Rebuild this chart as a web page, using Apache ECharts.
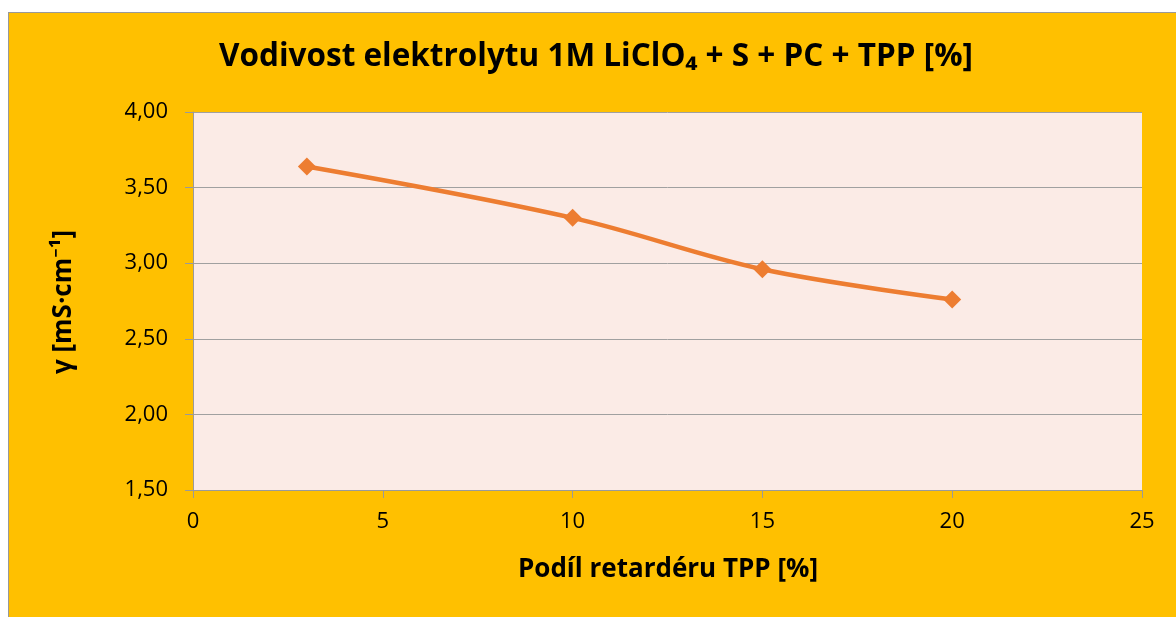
<!DOCTYPE html>
<html><head><meta charset="utf-8">
<script src="https://cdn.jsdelivr.net/npm/echarts@6/dist/echarts.min.js"></script>
<style>
html,body{margin:0;padding:0;background:#fff;width:1176px;height:617px;overflow:hidden;}
#frame{position:absolute;left:8px;top:12px;width:1168px;height:605px;box-sizing:border-box;border-left:1px solid #999;border-top:1px solid #999;background:#FFC000;}
#c{position:absolute;left:0;top:0;width:1167px;height:604px;}
</style></head>
<body><div id="frame"><div id="c"></div></div>
<script>
const titleText = 'Vodivost elektrolytu 1M LiClO\u2084 + S + PC + TPP [%]';
const xTitle = 'Podíl retardéru TPP [%]';
const yTitle = 'γ [mS·cm\u207B\u00B9]';
const xValues = [3, 10, 15, 20];
const yValues = [3.64, 3.30, 2.96, 2.76];
const xTicks = [0, 5, 10, 15, 20, 25];
const yTicks = [1.5, 2.0, 2.5, 3.0, 3.5, 4.0];

const font = '"Open Sans", "Noto Sans", sans-serif';
const chart = echarts.init(document.getElementById('c'));
chart.setOption({
  animation: false,
  textStyle: {fontFamily: font},
  grid: {left: 184, top: 99, width: 949, height: 378, show: true, backgroundColor: '#FBEBE6', borderWidth: 0},
  graphic: [
    {type: 'text', x: 587, y: 44, style: {text: titleText, font: 'bold 31.5px ' + font, fill: '#000', textAlign: 'center', textVerticalAlign: 'middle'}},
    {type: 'text', x: 659, y: 557, style: {text: xTitle, font: 'bold 26px ' + font, fill: '#000', textAlign: 'center', textVerticalAlign: 'middle'}},
    {type: 'text', x: 55, y: 289, rotation: Math.PI / 2, style: {text: yTitle, font: 'bold 26px ' + font, fill: '#000', textAlign: 'center', textVerticalAlign: 'middle'}}
  ],
  xAxis: {
    type: 'value', min: xTicks[0], max: xTicks[xTicks.length - 1], interval: 5,
    axisLine: {show: true, lineStyle: {color: '#9a9a9a', width: 1}},
    axisTick: {show: true, length: 8, lineStyle: {color: '#9a9a9a'}},
    splitLine: {show: false},
    axisLabel: {fontSize: 22, color: '#000', margin: 21}
  },
  yAxis: {
    type: 'value', min: yTicks[0], max: yTicks[yTicks.length - 1], interval: 0.5,
    axisLine: {show: true, lineStyle: {color: '#9a9a9a', width: 1}},
    axisTick: {show: true, length: 8, lineStyle: {color: '#9a9a9a'}},
    splitLine: {show: true, lineStyle: {color: '#a0a0a0', width: 1}},
    axisLabel: {fontSize: 22, color: '#000', margin: 25, formatter: v => v.toFixed(2).replace('.', ',')}
  },
  series: [{
    type: 'line', smooth: 0.35,
    data: xValues.map((x, i) => [x, yValues[i]]),
    symbol: 'diamond', symbolSize: 18,
    lineStyle: {color: '#ED7D31', width: 4.5},
    itemStyle: {color: '#ED7D31'}
  }]
});
</script></body></html>
